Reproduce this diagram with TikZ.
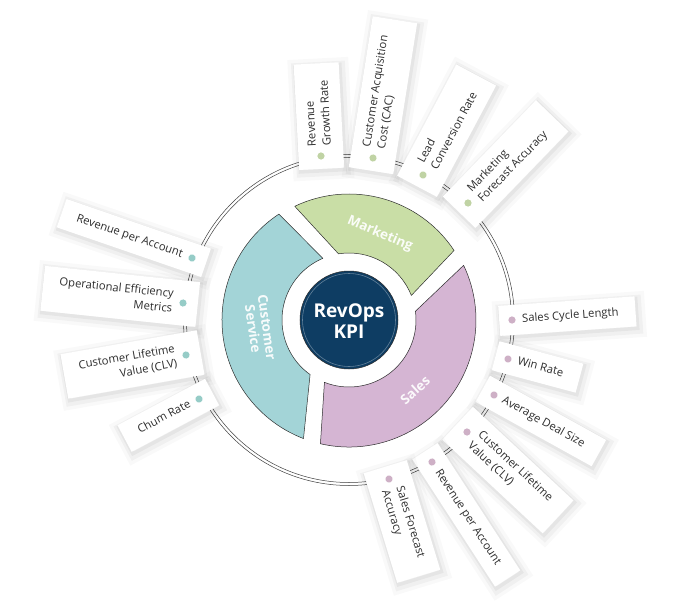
\documentclass[tikz,border=0pt]{standalone}
\usepackage{fontspec}
\setmainfont{Open Sans}
\definecolor{navy}{RGB}{14,61,99}
\definecolor{mkt}{RGB}{201,222,166}
\definecolor{sal}{RGB}{213,181,211}
\definecolor{csv}{RGB}{163,212,215}
\definecolor{gdot}{RGB}{192,211,164}
\definecolor{pdot}{RGB}{206,176,198}
\definecolor{tdot}{RGB}{150,204,199}
\definecolor{txt}{RGB}{45,45,45}
\definecolor{outl}{RGB}{45,45,45}
\tikzset{
  cardbox/.style={fill=white, inner xsep=0pt, inner ysep=7.5pt, transform shape,
    font=\fontsize{11.3}{15}\selectfont, text=txt,
    preaction={draw=black, draw opacity=0.022, line width=16pt, transform canvas={shift={(2pt,-3pt)}}},
    preaction={draw=black, draw opacity=0.035, line width=9pt, transform canvas={shift={(2pt,-3pt)}}},
    preaction={draw=black, draw opacity=0.045, line width=3.5pt, transform canvas={shift={(1.2pt,-2pt)}}}},
  seg/.style={draw=outl, line width=0.5pt, line join=round},
  seglabel/.style={text=white, text opacity=0.92, font=\bfseries\fontsize{13.5}{14}\selectfont, align=center, inner sep=0pt},
  ringline/.style={draw=black!75, line width=0.5pt},
}
\newcommand{\cardout}[6]{%
  \begin{scope}[shift={(#2,#3)},rotate=#4]
    \node[cardbox,anchor=west] (#1) at (-13,0) {\hspace*{23pt}\begin{tabular}{@{}l@{}}#6\end{tabular}\hspace*{17pt}};
    \fill[#5] (0,0) circle (3.6);
  \end{scope}}
\newcommand{\cardin}[6]{%
  \begin{scope}[shift={(#2,#3)},rotate=#4]
    \node[cardbox,anchor=east] (#1) at (15,0) {\hspace*{16pt}\begin{tabular}{@{}r@{}}#6\end{tabular}\hspace*{25pt}};
    \fill[#5] (0,0) circle (3.6);
  \end{scope}}
\begin{document}
\begin{tikzpicture}[x=1pt,y=1pt]
\useasboundingbox (-349,-280) rectangle (333,320);
\fill[white] (-349,-280) rectangle (333,320);
% outer double ring
\draw[ringline] (0,0) circle (162.5);
\draw[ringline] (0,0) circle (165.5);
% segments
\path[seg, fill=mkt] (21.5:67) -- (33.5:126) arc[start angle=33.5, end angle=115.5, radius=126] -- (99:67) arc[start angle=99, end angle=21.5, radius=67] -- cycle;
\path[seg, fill=csv] (113:67) -- (123.5:127) arc[start angle=123.5, end angle=249, radius=127] -- (234.5:67) arc[start angle=234.5, end angle=113, radius=67] -- cycle;
\path[seg, fill=sal] (248.5:67) -- (257:127) arc[start angle=257, end angle=385.5, radius=127] -- (367.5:67) arc[start angle=367.5, end angle=248.5, radius=67] -- cycle;
% center
\node[circle, fill=navy, draw=outl, line width=0.5pt, minimum size=98pt, inner sep=0pt] (kpi) at (0,0) {};
\draw[white, opacity=0.35, line width=0.6pt] (kpi.center) circle (46.5);
\node[text=white, font=\bfseries\fontsize{19}{21}\selectfont, align=center] (kpitext) at (0,-1) {RevOps\\KPI};
\node[seglabel, rotate=-23] (mklabel) at (31,86) {Marketing};
\node[seglabel, rotate=-82] (cslabel) at (-89,-8) {Customer\\Service};
\node[seglabel, rotate=42] (salabel) at (66,-70) {Sales};
% marketing cards
\cardout{rgr}{-28}{164}{93}{gdot}{Revenue\\Growth Rate}
\cardout{cac}{24}{162}{81}{gdot}{Customer Acquisition\\Cost (CAC)}
\cardout{lcr}{74}{145}{62}{gdot}{Lead\\Conversion Rate}
\cardout{mfa}{119}{117}{46}{gdot}{Marketing\\Forecast Accuracy}
% sales cards
\cardout{scl}{163}{0}{4}{pdot}{Sales Cycle Length}
\cardout{wr}{159}{-39}{-15}{pdot}{Win Rate}
\cardout{ads}{145}{-75}{-29}{pdot}{Average Deal Size}
\cardout{clvs}{118}{-112}{-43}{pdot}{Customer Lifetime\\Value (CLV)}
\cardout{rpas}{83}{-142}{-57}{pdot}{Revenue per Account}
\cardout{sfa}{40}{-159}{-73}{pdot}{Sales Forecast\\Accuracy}
% customer service cards
\cardin{rpac}{-157}{62}{-19}{tdot}{Revenue per Account}
\cardin{oem}{-166}{17}{-6}{tdot}{Operational Efficiency\\Metrics}
\cardin{clvc}{-163}{-35}{10}{tdot}{Customer Lifetime\\Value (CLV)}
\cardin{chum}{-150}{-79}{28}{tdot}{Chum Rate}
\end{tikzpicture}
\end{document}
